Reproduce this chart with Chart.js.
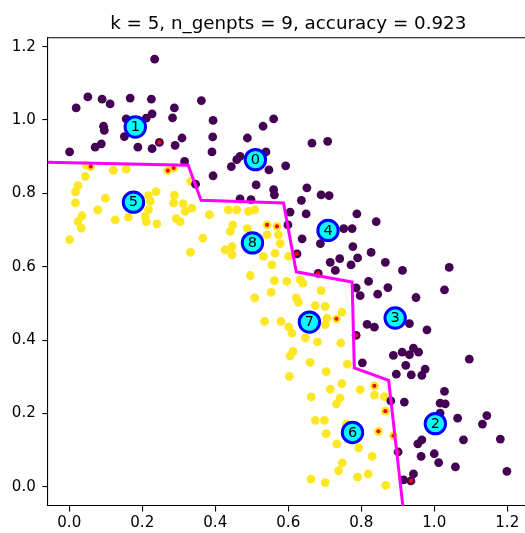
<!DOCTYPE html>
<html>
<head>
<meta charset="utf-8">
<script src="https://cdn.jsdelivr.net/npm/chart.js@4"></script>
<style>
html,body{margin:0;padding:0;overflow:hidden;background:#fff;width:525px;height:533px;}
#wrap{position:absolute;left:0;top:0;width:542px;height:533px;}
</style>
</head>
<body>
<div id="wrap"><canvas id="c" width="542" height="533"></canvas></div>
<script>
const titleText = "k = 5, n_genpts = 9, accuracy = 0.923";
const xTicks = [0.0, 0.2, 0.4, 0.6, 0.8, 1.0, 1.2];
const yTicks = [0.0, 0.2, 0.4, 0.6, 0.8, 1.0, 1.2];

// class 0 (purple) points
const purpleX = [0.234,0.051,0.090,0.112,0.167,0.225,0.019,0.288,0.362,0.227,0.156,0.211,0.283,0.094,0.096,0.394,0.560,0.531,0.151,0.309,0.393,0.488,0.088,0.071,0.188,0.227,0.247,0.290,0.001,0.391,0.316,0.444,0.468,0.539,0.547,0.593,0.394,0.512,0.560,0.562,0.468,0.498,0.346,0.665,0.708,0.459,0.605,0.636,0.651,0.690,0.712,0.649,0.599,0.638,0.688,0.752,0.775,0.788,0.841,0.777,0.741,0.790,0.827,0.624,0.715,0.729,0.772,0.682,0.866,0.913,1.041,0.820,0.873,0.786,0.797,0.845,0.950,1.028,0.816,0.836,0.932,0.980,0.786,0.803,0.888,0.912,0.932,0.943,0.957,1.096,0.922,0.896,0.937,0.966,0.975,1.028,1.016,1.030,1.016,0.918,0.881,1.064,1.144,1.132,0.966,0.955,1.080,1.181,0.964,1.000,1.012,1.058,1.199,0.901,0.943,0.916,0.936];
const purpleY = [1.166,1.063,1.057,1.044,1.060,1.057,1.033,1.033,1.053,1.017,1.003,1.005,1.006,0.983,0.972,0.999,1.003,0.983,0.955,0.951,0.954,0.951,0.935,0.926,0.926,0.922,0.939,0.931,0.913,0.913,0.887,0.873,0.901,0.913,0.864,0.875,0.848,0.823,0.810,0.796,0.785,0.783,0.825,0.937,0.942,0.892,0.749,0.781,0.815,0.796,0.794,0.744,0.714,0.676,0.663,0.704,0.704,0.744,0.723,0.655,0.622,0.624,0.639,0.635,0.612,0.590,0.605,0.582,0.612,0.590,0.598,0.560,0.543,0.542,0.521,0.525,0.516,0.537,0.443,0.435,0.445,0.428,0.413,0.338,0.358,0.367,0.360,0.378,0.367,0.348,0.331,0.307,0.305,0.304,0.321,0.260,0.228,0.226,0.201,0.231,0.234,0.187,0.194,0.171,0.128,0.117,0.128,0.130,0.083,0.090,0.066,0.054,0.042,0.095,0.035,0.019,0.016];
const purpleWrong = [26, 63, 67, 82, 113, 116];

// class 1 (yellow) points
const yellowX = [0.047,0.059,0.121,0.156,0.270,0.286,0.044,0.024,0.017,0.017,0.099,0.078,0.035,0.024,0.033,0.001,0.126,0.162,0.217,0.238,0.222,0.217,0.208,0.211,0.240,0.288,0.286,0.312,0.336,0.318,0.293,0.304,0.333,0.384,0.366,0.332,0.436,0.459,0.441,0.448,0.427,0.446,0.446,0.491,0.508,0.488,0.542,0.569,0.542,0.573,0.578,0.532,0.564,0.601,0.555,0.496,0.562,0.596,0.633,0.640,0.553,0.508,0.622,0.628,0.690,0.674,0.701,0.747,0.732,0.706,0.701,0.535,0.580,0.601,0.610,0.647,0.680,0.744,0.613,0.605,0.660,0.704,0.762,0.603,0.715,0.747,0.742,0.732,0.663,0.797,0.836,0.836,0.863,0.866,0.847,0.888,0.674,0.699,0.704,0.733,0.759,0.793,0.830,0.748,0.738,0.662,0.701,0.790,0.819,0.867];
const yellowY = [0.877,0.873,0.863,0.866,0.862,0.869,0.846,0.821,0.804,0.774,0.787,0.755,0.739,0.723,0.705,0.674,0.728,0.735,0.794,0.805,0.778,0.755,0.737,0.723,0.717,0.795,0.774,0.772,0.760,0.751,0.731,0.723,0.833,0.742,0.678,0.639,0.755,0.755,0.696,0.714,0.646,0.655,0.633,0.751,0.755,0.704,0.714,0.710,0.687,0.687,0.663,0.628,0.637,0.628,0.605,0.576,0.562,0.560,0.564,0.555,0.530,0.515,0.515,0.503,0.535,0.494,0.492,0.476,0.458,0.460,0.442,0.451,0.451,0.436,0.419,0.406,0.395,0.392,0.369,0.357,0.339,0.314,0.334,0.301,0.266,0.281,0.242,0.226,0.245,0.265,0.275,0.250,0.246,0.206,0.151,0.139,0.181,0.181,0.145,0.117,0.171,0.106,0.083,0.065,0.044,0.021,0.011,0.026,0.035,0.004];
const yellowWrong = [1, 4, 5, 46, 47, 68, 90, 93, 94, 95];

// generated points (numbered)
const genLabels = ["0","1","2","3","4","5","6","7","8"];
const genX = [0.510,0.181,1.003,0.893,0.709,0.176,0.776,0.658,0.502];
const genY = [0.892,0.981,0.172,0.460,0.699,0.776,0.148,0.449,0.665];

// decision boundary
const boundX = [-0.08,0.326,0.361,0.587,0.622,0.775,0.781,0.875,0.912,0.918];
const boundY = [0.885,0.877,0.781,0.774,0.586,0.558,0.324,0.290,-0.035,-0.09];

const xMin = -0.059, xMax = 1.259, yMin = -0.0525, yMax = 1.2245;

const zip = (xs, ys) => xs.map((x, i) => ({x: x, y: ys[i]}));
const wrongPts = purpleWrong.map(i => ({x: purpleX[i], y: purpleY[i]}))
  .concat(yellowWrong.map(i => ({x: yellowX[i], y: yellowY[i]})));

const FONT = "'DejaVu Sans', sans-serif";

const extras = {
  id: 'extras',
  afterDraw(chart) {
    const ctx = chart.ctx, a = chart.chartArea;
    ctx.save();
    // top spine
    ctx.strokeStyle = '#000';
    ctx.lineWidth = 1.1;
    ctx.beginPath();
    ctx.moveTo(a.left, a.top);
    ctx.lineTo(a.right, a.top);
    ctx.stroke();
    // title
    ctx.fillStyle = '#000';
    ctx.font = "18.3px " + FONT;
    ctx.textAlign = 'center';
    ctx.textBaseline = 'alphabetic';
    ctx.fillText(titleText, (a.left + a.right) / 2, 29.3);
    // labels of generated points
    const meta = chart.getDatasetMeta(0);
    ctx.font = "14.5px " + FONT;
    ctx.textBaseline = 'middle';
    meta.data.forEach((el, i) => {
      ctx.fillText(genLabels[i], el.x, el.y + 0.5);
    });
    ctx.restore();
  }
};

new Chart(document.getElementById('c'), {
  type: 'scatter',
  data: {
    datasets: [
      { label: 'gen', data: zip(genX, genY), pointRadius: 10.2, pointBorderWidth: 3,
        pointBackgroundColor: '#00ffff', pointBorderColor: '#0000ff', order: 0 },
      { label: 'boundary', data: zip(boundX, boundY), showLine: true, pointRadius: 0,
        borderColor: '#ff00ff', borderWidth: 3, tension: 0, fill: false, order: 1 },
      { label: 'wrong', data: wrongPts, pointRadius: 2.1, pointBorderWidth: 0,
        pointBackgroundColor: '#ff0000', order: 2 },
      { label: 'class0', data: zip(purpleX, purpleY), pointRadius: 4.4, pointBorderWidth: 0,
        pointBackgroundColor: '#440154', order: 3 },
      { label: 'class1', data: zip(yellowX, yellowY), pointRadius: 4.4, pointBorderWidth: 0,
        pointBackgroundColor: '#fde725', order: 4 }
    ]
  },
  options: {
    responsive: false,
    animation: false,
    events: [],
    layout: { padding: { top: 37.7, left: 0, right: 0, bottom: 0 } },
    plugins: { legend: { display: false }, tooltip: { enabled: false }, title: { display: false } },
    scales: {
      x: {
        type: 'linear', position: 'bottom', min: xMin, max: xMax,
        afterFit: s => { s.height = 27; s.paddingLeft = 0; s.paddingRight = 0; },
        afterBuildTicks: s => { s.ticks = xTicks.map(v => ({value: v})); },
        grid: { display: true, drawOnChartArea: false, drawTicks: true, tickLength: 5.4, color: '#000', lineWidth: 1.1 },
        border: { display: true, color: '#000', width: 1.1 },
        ticks: { color: '#000', padding: 2.3, maxRotation: 0, autoSkip: false,
          font: { family: FONT, size: 15.1 }, callback: v => v.toFixed(1) }
      },
      y: {
        type: 'linear', position: 'left', min: yMin, max: yMax,
        afterFit: s => { s.width = 47.7; s.paddingTop = 0; s.paddingBottom = 0; },
        afterBuildTicks: s => { s.ticks = yTicks.map(v => ({value: v})); },
        grid: { display: true, drawOnChartArea: false, drawTicks: true, tickLength: 5.4, color: '#000', lineWidth: 1.1 },
        border: { display: true, color: '#000', width: 1.1 },
        ticks: { color: '#000', padding: 6.5, autoSkip: false,
          font: { family: FONT, size: 15.1 }, callback: v => v.toFixed(1) }
      }
    }
  },
  plugins: [extras]
});
</script>
</body>
</html>
